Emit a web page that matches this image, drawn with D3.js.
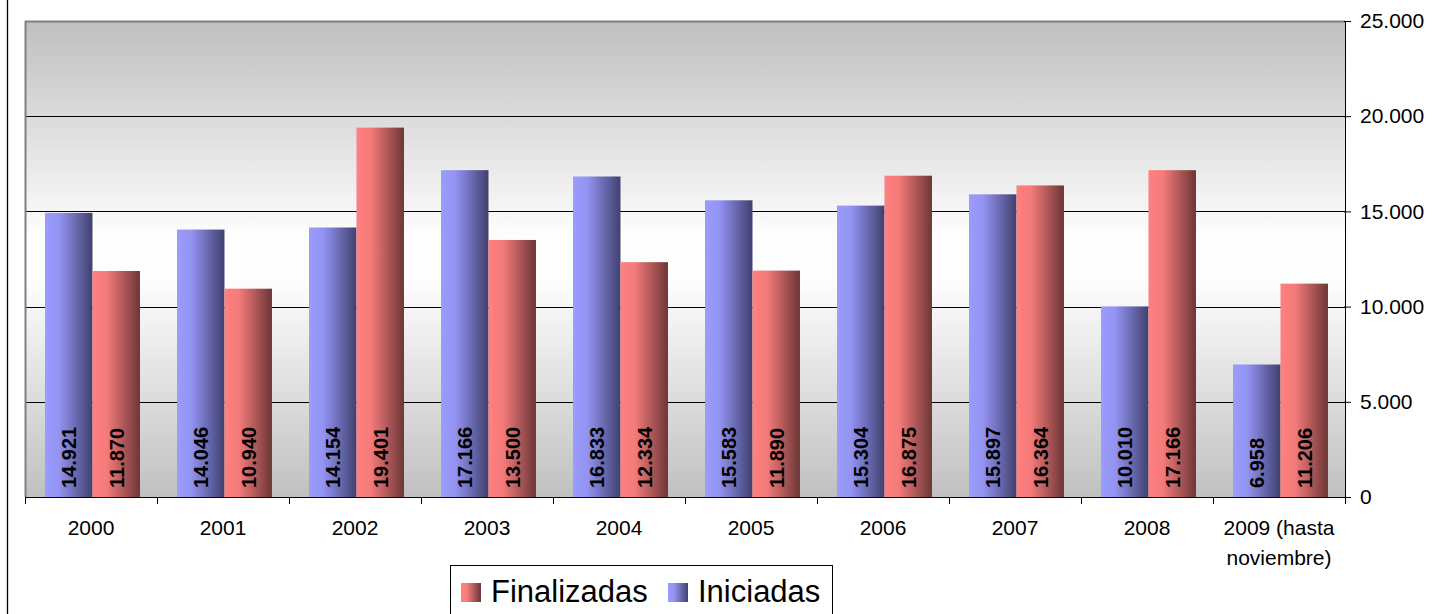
<!DOCTYPE html>
<html>
<head>
<meta charset="utf-8">
<script src="https://cdn.jsdelivr.net/npm/d3@7"></script>
<style>
  html, body { margin: 0; padding: 0; background: #fff; }
  svg { display: block; font-family: Arial, "Liberation Sans", sans-serif; }
</style>
</head>
<body>
<svg id="chart" width="1443" height="614"></svg>
<script>
// Yearly counts of proceedings started (Iniciadas) and closed (Finalizadas)
const years = ["2000", "2001", "2002", "2003", "2004", "2005", "2006", "2007", "2008", "2009 (hasta noviembre)"];
const iniciadas = [14921, 14046, 14154, 17166, 16833, 15583, 15304, 15897, 10010, 6958];
const finalizadas = [11870, 10940, 19401, 13500, 12334, 11890, 16875, 16364, 17166, 11206];
const yTicks = [0, 5000, 10000, 15000, 20000, 25000];
const seriesNames = ["Iniciadas", "Finalizadas"];
const legendOrder = ["Finalizadas", "Iniciadas"];

const svg = d3.select("#chart");
const plot = { left: 25, right: 1345, top: 21, bottom: 497 };
const FONT = "Arial, 'Liberation Sans', sans-serif";

const fmt = v => d3.format(",")(v).replace(/,/g, ".");

const x = d3.scaleBand().domain(years).range([plot.left, plot.right]).paddingInner(0).paddingOuter(0);
const xSub = d3.scaleBand().domain(seriesNames).range([0, x.bandwidth()])
  .paddingInner(0).paddingOuter(0.39).align(0.54);
const y = d3.scaleLinear().domain([0, 25000]).range([plot.bottom, plot.top]);

const defs = svg.append("defs");
const bg = defs.append("linearGradient").attr("id", "bgGrad").attr("x1", 0).attr("y1", 0).attr("x2", 0).attr("y2", 1);
[[0, "#bfbfbf"], [0.45, "#fdfdfd"], [0.55, "#fdfdfd"], [1, "#c0c0c0"]].forEach(([o, c]) =>
  bg.append("stop").attr("offset", o).attr("stop-color", c));

const grads = {
  Iniciadas: [[0, "#9c9cff"], [0.3, "#9393f2"], [1, "#404070"]],
  Finalizadas: [[0, "#ff8080"], [0.3, "#f57b7b"], [1, "#6c3636"]]
};
Object.entries(grads).forEach(([k, stops]) => {
  const g = defs.append("linearGradient").attr("id", "g-" + k).attr("x1", 0).attr("y1", 0).attr("x2", 1).attr("y2", 0);
  stops.forEach(([o, c]) => g.append("stop").attr("offset", o).attr("stop-color", c));
});

// outer chart frame (left edge)
svg.append("line").attr("x1", 7.5).attr("x2", 7.5).attr("y1", 0).attr("y2", 614)
  .attr("stroke", "#000").attr("stroke-width", 1.3);

// plot background
svg.append("rect").attr("x", plot.left).attr("y", plot.top)
  .attr("width", plot.right - plot.left).attr("height", plot.bottom - plot.top)
  .attr("fill", "url(#bgGrad)");

// gridlines
svg.append("g").selectAll("line").data(yTicks.filter(t => t > 0 && t < 25000)).join("line")
  .attr("x1", plot.left).attr("x2", plot.right)
  .attr("y1", d => Math.round(y(d)) + 0.5).attr("y2", d => Math.round(y(d)) + 0.5)
  .attr("stroke", "#000").attr("stroke-width", 1);

// top and left plot borders
svg.append("line").attr("x1", plot.left).attr("x2", plot.right).attr("y1", plot.top + 0.5).attr("y2", plot.top + 0.5)
  .attr("stroke", "#808080").attr("stroke-width", 2);
svg.append("line").attr("x1", plot.left + 0.5).attr("x2", plot.left + 0.5).attr("y1", plot.top).attr("y2", plot.bottom)
  .attr("stroke", "#808080").attr("stroke-width", 2);

// bars
const rows = years.map((yr, i) => ({ year: yr, Iniciadas: iniciadas[i], Finalizadas: finalizadas[i] }));
const groups = svg.append("g").selectAll("g").data(rows).join("g")
  .attr("transform", d => `translate(${x(d.year)},0)`);

groups.selectAll("rect").data(d => seriesNames.map(k => ({ key: k, value: d[k] }))).join("rect")
  .attr("x", d => xSub(d.key))
  .attr("y", d => y(d.value))
  .attr("width", xSub.bandwidth())
  .attr("height", d => y(0) - y(d.value))
  .attr("fill", d => `url(#g-${d.key})`);

// value labels, rotated inside the bars
groups.selectAll("text").data(d => seriesNames.map(k => ({ key: k, value: d[k] }))).join("text")
  .attr("transform", d => `translate(${xSub(d.key) + xSub.bandwidth() / 2 + 7.5},${plot.bottom - 9}) rotate(-90)`)
  .attr("font-size", 20).attr("font-weight", "bold").attr("fill", "#000")
  .text(d => fmt(d.value));

// right y axis
const yAxis = svg.append("g").attr("transform", `translate(${plot.right},0)`)
  .call(d3.axisRight(y).tickValues(yTicks).tickSize(6).tickPadding(9).tickFormat(fmt));
yAxis.select(".domain").attr("stroke", "#000").attr("d", `M0.5,${plot.top}V${plot.bottom}`);
yAxis.selectAll(".tick line").attr("stroke", "#000").attr("x1", -1);
yAxis.selectAll(".tick text").attr("font-size", 21).attr("font-family", FONT).attr("fill", "#000");

// bottom x axis line and category ticks
svg.append("line").attr("x1", plot.left).attr("x2", plot.right + 6).attr("y1", plot.bottom + 0.5).attr("y2", plot.bottom + 0.5)
  .attr("stroke", "#000");
const bounds = years.map(d => x(d)).concat([plot.right]);
svg.append("g").selectAll("line").data(bounds).join("line")
  .attr("x1", d => Math.round(d) + 0.5).attr("x2", d => Math.round(d) + 0.5)
  .attr("y1", plot.bottom).attr("y2", plot.bottom + 7).attr("stroke", "#000");

// category labels (the last one wraps onto two lines)
const labelLines = { "2009 (hasta noviembre)": ["2009 (hasta", "noviembre)"] };
const xl = svg.append("g").selectAll("text").data(years).join("text")
  .attr("x", d => x(d) + x.bandwidth() / 2)
  .attr("y", 535)
  .attr("text-anchor", "middle").attr("font-size", 21).attr("fill", "#000");
xl.each(function (d) {
  const lines = labelLines[d] || [d];
  d3.select(this).selectAll("tspan").data(lines).join("tspan")
    .attr("x", x(d) + x.bandwidth() / 2)
    .attr("dy", (l, i) => i === 0 ? 0 : 30)
    .text(l => l);
});

// legend
const lg = svg.append("g");
lg.append("rect").attr("x", 450.5).attr("y", 565.5).attr("width", 382).attr("height", 60)
  .attr("fill", "#fff").attr("stroke", "#000").attr("stroke-width", 1);
const legendX = { Finalizadas: 461, Iniciadas: 668 };
legendOrder.forEach(k => {
  lg.append("rect").attr("x", legendX[k]).attr("y", 583).attr("width", 20).attr("height", 19)
    .attr("fill", `url(#g-${k})`);
  lg.append("text").attr("x", legendX[k] + 30).attr("y", 602)
    .attr("font-size", 31).attr("fill", "#000").text(k);
});
</script>
</body>
</html>
